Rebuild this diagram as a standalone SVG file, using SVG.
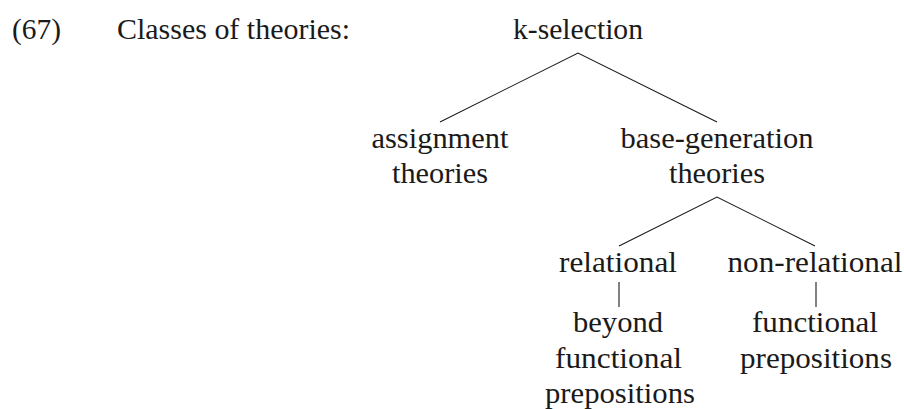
<svg xmlns="http://www.w3.org/2000/svg" width="904" height="409" viewBox="0 0 904 409">
<style>
.t{font-size:28.6px;fill:#1a1a1a;}
.c{text-anchor:middle;}
.ln{stroke:#1a1a1a;stroke-width:1.1;fill:none;}
</style>
<rect width="904" height="409" fill="#fff"/>
<g font-family="Liberation Serif, DejaVu Serif, serif" class="t">
<g id="label">
<text x="12" y="39" textLength="49" lengthAdjust="spacingAndGlyphs">(67)</text>
<text x="117" y="39" textLength="233" lengthAdjust="spacingAndGlyphs">Classes of theories:</text>
</g>
<g id="k-selection">
<text class="c" x="578" y="39" textLength="130" lengthAdjust="spacingAndGlyphs">k-selection</text>
</g>
<g id="assignment">
<text class="c" x="440" y="148" textLength="137" lengthAdjust="spacingAndGlyphs">assignment</text>
<text class="c" x="440" y="183" textLength="96" lengthAdjust="spacingAndGlyphs">theories</text>
</g>
<g id="base-generation">
<text class="c" x="717" y="148" textLength="193" lengthAdjust="spacingAndGlyphs">base-generation</text>
<text class="c" x="717" y="183" textLength="96" lengthAdjust="spacingAndGlyphs">theories</text>
</g>
<g id="relational">
<text class="c" x="618" y="272" textLength="118" lengthAdjust="spacingAndGlyphs">relational</text>
</g>
<g id="non-relational">
<text class="c" x="815" y="272" textLength="175" lengthAdjust="spacingAndGlyphs">non-relational</text>
</g>
<g id="beyond-functional">
<text class="c" x="618" y="332" textLength="90" lengthAdjust="spacingAndGlyphs">beyond</text>
<text class="c" x="618.5" y="368" textLength="127" lengthAdjust="spacingAndGlyphs">functional</text>
<text class="c" x="620" y="403" textLength="150" lengthAdjust="spacingAndGlyphs">prepositions</text>
</g>
<g id="functional-prepositions">
<text class="c" x="815" y="332" textLength="126" lengthAdjust="spacingAndGlyphs">functional</text>
<text class="c" x="816" y="368" textLength="152" lengthAdjust="spacingAndGlyphs">prepositions</text>
</g>
</g>
<g id="connectors">
<path class="ln" d="M440,122 L578,53 L717,122"/>
<path class="ln" d="M619,246 L717,197 L815,246"/>
<path class="ln" d="M619,282 V307"/>
<path class="ln" d="M816,282 V307"/>
</g>
</svg>
